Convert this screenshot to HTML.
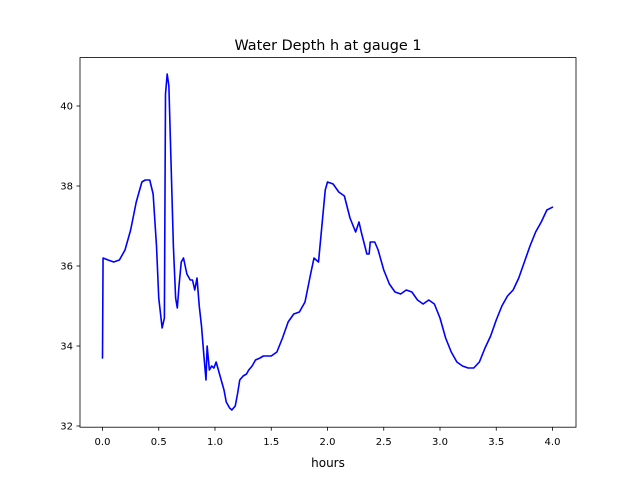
<!DOCTYPE html>
<html><head><meta charset="utf-8"><style>
body{margin:0;background:#fff;font-family:"DejaVu Sans","Liberation Sans",sans-serif;}
svg text{font-family:"DejaVu Sans","Liberation Sans",sans-serif;}
</style></head><body>
<svg id="chart" width="640" height="480" xmlns="http://www.w3.org/2000/svg">
<rect width="640" height="480" fill="#fff"/>
<text x="328" y="50" font-size="14.4" text-anchor="middle">Water Depth h at gauge 1</text>
<g id="xt"></g>
<g id="yt"></g>
<path id="line" fill="none" stroke="#0000ff" stroke-width="1.6" stroke-linejoin="round" stroke-linecap="round"/>
<rect x="80" y="57.6" width="496" height="369.6" fill="none" stroke="#000" stroke-width="0.8"/>
<text x="328" y="467" font-size="12" text-anchor="middle">hours</text>
</svg>
<script>
const times=[0,0.005,0.05,0.1,0.15,0.2,0.25,0.3,0.35,0.38,0.42,0.45,0.48,0.5,0.53,0.55,0.56,0.575,0.59,0.61,0.63,0.65,0.665,0.68,0.7,0.72,0.75,0.78,0.8,0.82,0.84,0.86,0.88,0.9,0.92,0.93,0.95,0.97,0.99,1.01,1.03,1.06,1.08,1.1,1.13,1.15,1.18,1.2,1.22,1.25,1.28,1.3,1.33,1.36,1.4,1.43,1.5,1.55,1.6,1.65,1.7,1.75,1.8,1.85,1.88,1.9,1.92,1.95,1.98,2.0,2.05,2.1,2.15,2.2,2.25,2.28,2.3,2.35,2.37,2.38,2.4,2.42,2.45,2.5,2.55,2.6,2.65,2.7,2.75,2.8,2.85,2.9,2.95,3.0,3.05,3.1,3.15,3.2,3.25,3.3,3.35,3.4,3.45,3.5,3.55,3.6,3.65,3.7,3.75,3.8,3.85,3.9,3.95,4.0];
const depths=[33.7,36.2,36.15,36.1,36.15,36.4,36.9,37.6,38.1,38.15,38.15,37.8,36.5,35.2,34.45,34.7,40.3,40.8,40.5,38.5,36.5,35.2,34.95,35.5,36.1,36.2,35.8,35.65,35.65,35.4,35.7,35.0,34.5,33.8,33.15,34.0,33.4,33.5,33.45,33.6,33.4,33.1,32.9,32.6,32.45,32.4,32.5,32.8,33.15,33.25,33.3,33.4,33.5,33.65,33.7,33.75,33.75,33.85,34.2,34.6,34.8,34.85,35.1,35.8,36.2,36.15,36.1,37.0,37.9,38.1,38.05,37.85,37.75,37.2,36.85,37.1,36.85,36.3,36.3,36.6,36.6,36.6,36.4,35.9,35.55,35.35,35.3,35.4,35.35,35.15,35.05,35.15,35.05,34.7,34.2,33.85,33.6,33.5,33.45,33.45,33.6,33.95,34.25,34.65,35.0,35.25,35.4,35.7,36.1,36.5,36.85,37.1,37.4,37.47];
const xTicks=[0,0.5,1,1.5,2,2.5,3,3.5,4];
const xTickLabels=["0.0","0.5","1.0","1.5","2.0","2.5","3.0","3.5","4.0"];
const yTicks=[32,34,36,38,40];
const yTickLabels=["32","34","36","38","40"];
const NS="http://www.w3.org/2000/svg";
const x=t=>102.5+t*112.5;
const y=h=>426+(32-h)*40;
function mk(tag,attrs,parent){const e=document.createElementNS(NS,tag);for(const k in attrs)e.setAttribute(k,attrs[k]);parent.appendChild(e);return e;}
const xt=document.getElementById('xt'),yt=document.getElementById('yt');
xTicks.forEach((t,i)=>{
 const l=mk('line',{x1:x(t),x2:x(t),y1:427.2,y2:430.7,stroke:'#000','stroke-width':0.8},xt);
 
 
 const tx=mk('text',{x:x(t),y:445,'font-size':10,'text-anchor':'middle'},xt);
 tx.textContent=xTickLabels[i];
 
 
});
yTicks.forEach((v,i)=>{
 const l=mk('line',{x1:76.5,x2:80,y1:y(v),y2:y(v),stroke:'#000','stroke-width':0.8},yt);
 
 
 const tx=mk('text',{x:73,y:y(v)+3.5,'font-size':10,'text-anchor':'end'},yt);
 tx.textContent=yTickLabels[i];
 
 
});
document.getElementById('line').setAttribute('d',times.map((t,i)=>(i?'L':'M')+x(t).toFixed(2)+' '+y(depths[i]).toFixed(2)).join(' '));
</script>
</body></html>
